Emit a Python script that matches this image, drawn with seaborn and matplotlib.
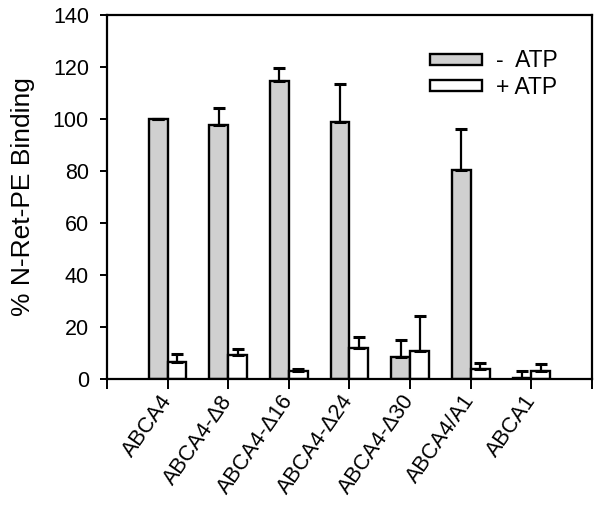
import matplotlib
matplotlib.use("Agg")
import matplotlib.pyplot as plt
import numpy as np
import pandas as pd
import seaborn as sns
from matplotlib.patches import Patch

constructs = ["ABCA4", "ABCA4-Δ8", "ABCA4-Δ16", "ABCA4-Δ24", "ABCA4-Δ30", "ABCA4/A1", "ABCA1"]
minus_atp = [100.0, 97.5, 114.7, 98.8, 8.6, 80.3, 0.3]
minus_atp_err = [0.0, 6.6, 5.0, 14.8, 6.3, 15.7, 2.9]
plus_atp = [6.7, 9.2, 3.2, 11.8, 10.8, 3.7, 3.2]
plus_atp_err = [2.9, 2.2, 0.6, 4.5, 13.4, 2.6, 2.6]
conditions = ["-  ATP", "+ ATP"]
colors = ["#d0d0d0", "#ffffff"]

sns.set_theme(style="ticks")
plt.rcParams["font.family"] = ["Liberation Sans", "DejaVu Sans"]
plt.rcParams.update({"axes.edgecolor": "black", "xtick.color": "black", "ytick.color": "black",
                     "text.color": "black", "axes.labelcolor": "black"})

df = pd.DataFrame({
    "construct": constructs * 2,
    "binding": minus_atp + plus_atp,
    "condition": [conditions[0]] * len(constructs) + [conditions[1]] * len(constructs),
})
errs = [minus_atp_err, plus_atp_err]

fig = plt.figure(figsize=(6.01, 5.13), dpi=100)
ax = fig.add_axes([0.178, 0.261, 0.807, 0.710])

sns.barplot(data=df, x="construct", y="binding", hue="condition", order=constructs,
            hue_order=conditions, palette=colors, width=0.62, errorbar=None,
            edgecolor="black", linewidth=1.7, saturation=1, legend=False, ax=ax)

for container, err in zip(ax.containers, errs):
    xs = [p.get_x() + p.get_width() / 2 for p in container.patches]
    ys = [p.get_height() for p in container.patches]
    ax.errorbar(xs, ys, yerr=[np.zeros(len(err)), err], fmt="none", ecolor="black",
                elinewidth=1.6, capsize=4, capthick=2.2, zorder=1)

ax.set_xlim(-1, 7)
ax.set_ylim(0, 140)
ax.set_xticks(np.arange(-1, 8))
ax.set_xticklabels([""] + constructs + [""], rotation=55, ha="right", va="center",
                   rotation_mode="anchor", fontsize=15.5)
ax.set_yticks(np.arange(0, 141, 20))
ax.tick_params(axis="y", labelsize=15.5, length=5, width=1.4, direction="out", pad=8)
ax.tick_params(axis="x", length=7, width=1.4, direction="out", pad=6)
ax.set_xlabel("")
ax.set_ylabel("% N-Ret-PE Binding", fontsize=19, labelpad=13)
for s in ax.spines.values():
    s.set_linewidth(1.6)
    s.set_visible(True)

handles = [Patch(facecolor=c, edgecolor="black", linewidth=1.7) for c in colors]
ax.legend(handles, conditions, loc="upper left", bbox_to_anchor=(0.665, 0.905),
          frameon=False, fontsize=16.5, handlelength=2.3, handleheight=0.36,
          labelspacing=0.15, handletextpad=0.6, borderpad=0, borderaxespad=0)

fig.savefig("out.png", dpi=100)
